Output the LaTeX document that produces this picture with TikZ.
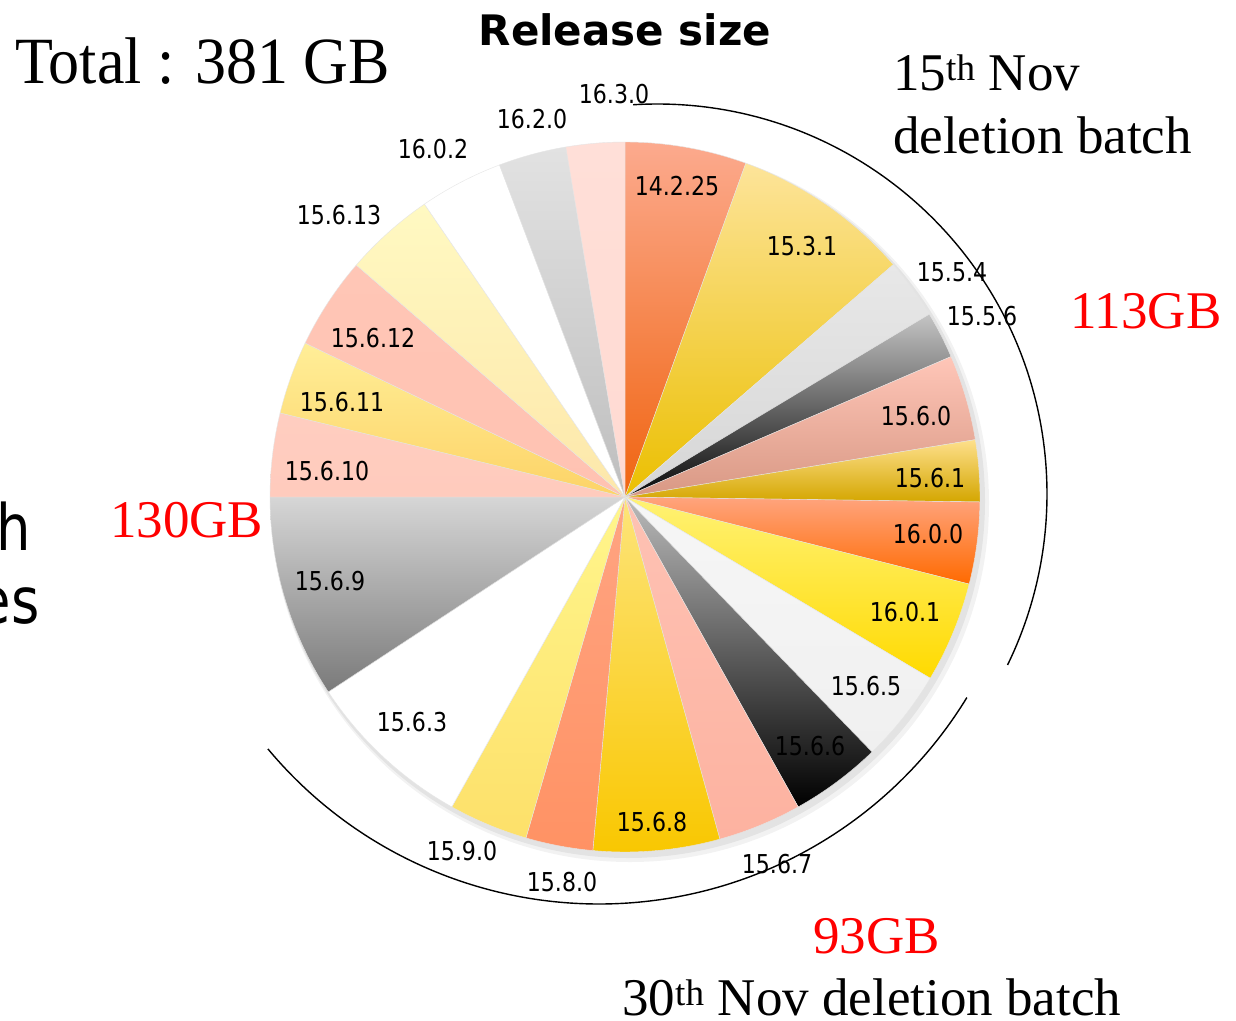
\documentclass[tikz,border=0pt]{standalone}
\usepackage{fontspec}
\setmainfont{Liberation Serif}
\newfontfamily\lblfont[FakeStretch=0.85]{DejaVu Sans}
\newfontfamily\dejasans{DejaVu Sans}
\newfontfamily\totalfont[FakeStretch=0.94]{Liberation Serif}
\usetikzlibrary{calc}
\tikzset{
  lbl/.style={inner sep=0pt, font=\lblfont\fontsize{26}{30}\selectfont},
  bigserif/.style={inner sep=0pt, anchor=base west, font=\fontsize{53}{60}\selectfont},
  redgb/.style={bigserif, text=red},
  fragtext/.style={inner sep=0pt, anchor=base east, font=\lblfont\fontsize{64}{70}\selectfont},
  slicestyle/.style={draw=black!10, line width=0.4pt},
  batcharc/.style={draw=black, line width=1.4pt},
}
\def\pieR{355}
\newcommand\pieslice[5]{%
  \definecolor{sl#1t}{HTML}{#4}\definecolor{sl#1b}{HTML}{#5}%
  \path[slicestyle, top color=sl#1t, bottom color=sl#1b]
    (C) -- ++({90-#2}:\pieR) arc[start angle={90-#2}, end angle={90-#3}, radius=\pieR] -- cycle;}
\begin{document}
\begin{tikzpicture}[x=1pt,y=1pt]
\useasboundingbox (0,0) rectangle (1236,-1020);
\clip (0,0) rectangle (1236,-1020);
\fill[white] (0,0) rectangle (1236,-1020);
\coordinate (C) at (625,-497);
% soft shadow
\fill[black,opacity=0.05] (630,-503) circle (359);
\fill[black,opacity=0.06] (628,-501) circle (357);
% slices
\pieslice{a}{0}{19.9}{FCAA8E}{F06410}
\pieslice{b}{19.9}{49.1}{FDE49A}{EBBF00}
\pieslice{c}{49.1}{59.0}{E8E8E8}{D6D6D6}
\pieslice{d}{59.0}{66.7}{C4C4C4}{080808}
\pieslice{e}{66.7}{80.7}{FFC6B8}{D89884}
\pieslice{f}{80.7}{90.8}{FEE08C}{D4A600}
\pieslice{g}{90.8}{104.2}{FFA47E}{FF6A00}
\pieslice{h}{104.2}{120.7}{FFF275}{FFDA00}
\pieslice{i}{120.7}{135.9}{F6F6F6}{F0F0F0}
\pieslice{j}{135.9}{150.8}{BBBBBB}{000000}
\pieslice{k}{150.8}{164.5}{FEC2B4}{FDB2A0}
\pieslice{l}{164.5}{185.2}{FDE47A}{F9C700}
\pieslice{m}{185.2}{196.2}{FFA482}{FF9264}
\pieslice{n}{196.2}{209.2}{FFF68C}{FDE06A}
\pieslice{o}{209.2}{236.7}{FFFFFF}{FFFFFF}
\pieslice{p}{236.7}{270}{D6D6D6}{7A7A7A}
\pieslice{q}{270}{283.7}{FFCDC0}{FFCBBD}
\pieslice{r}{283.7}{295.7}{FFEE98}{FDD366}
\pieslice{s}{295.7}{310.8}{FFC6B6}{FFC2B2}
\pieslice{t}{310.8}{325.6}{FFF9C2}{FDE7AA}
\pieslice{u}{325.6}{339.3}{FFFFFF}{FFFFFF}
\pieslice{v}{339.3}{350.4}{E2E2E2}{BEBEBE}
\pieslice{w}{350.4}{360}{FFDFD8}{FFDAD2}
% slice labels
\node[lbl] (L1) at (677,-186) {14.2.25};
\node[lbl] (L2) at (802,-246) {15.3.1};
\node[lbl] (L3) at (952,-272) {15.5.4};
\node[lbl] (L4) at (982,-316) {15.5.6};
\node[lbl] (L5) at (916,-416) {15.6.0};
\node[lbl] (L6) at (930,-478) {15.6.1};
\node[lbl] (L7) at (928,-534) {16.0.0};
\node[lbl] (L8) at (905,-612) {16.0.1};
\node[lbl] (L9) at (866,-686) {15.6.5};
\node[lbl] (L10) at (810,-746) {15.6.6};
\node[lbl] (L11) at (777,-864) {15.6.7};
\node[lbl] (L12) at (652,-822) {15.6.8};
\node[lbl] (L13) at (562,-882) {15.8.0};
\node[lbl] (L14) at (462,-851) {15.9.0};
\node[lbl] (L15) at (412,-722) {15.6.3};
\node[lbl] (L16) at (330,-581) {15.6.9};
\node[lbl] (L17) at (327,-471) {15.6.10};
\node[lbl] (L18) at (342,-402) {15.6.11};
\node[lbl] (L19) at (373,-338) {15.6.12};
\node[lbl] (L20) at (339,-215) {15.6.13};
\node[lbl] (L21) at (433,-149) {16.0.2};
\node[lbl] (L22) at (532,-119) {16.2.0};
\node[lbl] (L23) at (614,-94) {16.3.0};
% batch arcs
\coordinate (A1) at (657,-494);
\coordinate (A1s) at ($(A1)+(93.5:390)$);
\draw[batcharc] (A1s) arc[start angle=93.5, end angle=-26, radius=390];
\coordinate (A2) at (599,-473);
\coordinate (A2s) at ($(A2)+(219.8:431)$);
\draw[batcharc] (A2s) arc[start angle=219.8, end angle=328.6, radius=431];
% texts
\node[inner sep=0pt, anchor=base west, font=\totalfont\fontsize{66}{70}\selectfont] (total) at (15,-83) {Total : 381 GB};
\node[inner sep=0pt, anchor=base, font=\dejasans\bfseries\fontsize{42}{48}\selectfont] (title) at (625,-45) {Release size};
\node[bigserif] (nov15) at (893,-90) {15\textsuperscript{th} Nov};
\node[bigserif] (del15) at (893,-153) {deletion batch};
\node[redgb] (gb113) at (1070,-328) {113GB};
\node[redgb] (gb130) at (110,-537) {130GB};
\node[redgb] (gb93) at (813,-953) {93GB};
\node[bigserif] (nov30) at (622,-1015) {30\textsuperscript{th} Nov deletion batch};
\node[fragtext] (frag1) at (31,-550) {h};
\node[fragtext] (frag2) at (40,-623) {es};
\end{tikzpicture}
\end{document}
